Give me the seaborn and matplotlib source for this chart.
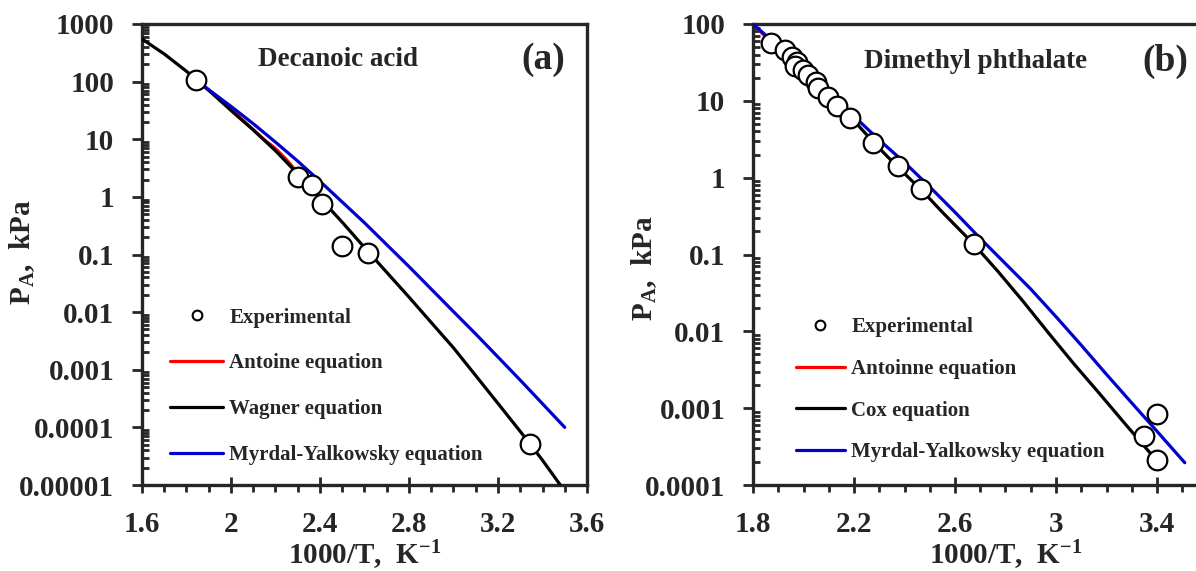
import numpy as np
import pandas as pd
import matplotlib
matplotlib.use('Agg')
import matplotlib.pyplot as plt
import matplotlib.ticker as ticker
from matplotlib.lines import Line2D
import seaborn as sns

# (a) Decanoic acid
dec_exp_x = [1.843, 2.30, 2.364, 2.407, 2.50, 2.616, 3.344]
dec_exp_p = [107, 2.2, 1.6, 0.75, 0.14, 0.106, 0.000051]

dec_wag_x = [1.60, 1.70, 1.80, 1.85, 1.90, 2.00, 2.10, 2.20, 2.30, 2.40, 2.50,
             2.60, 2.70, 2.80, 2.90, 3.00, 3.10, 3.20, 3.30, 3.40, 3.48]
dec_wag_p = [550, 302, 151, 105, 70.8, 31.6, 14.5, 6.31, 2.51, 0.955, 0.363,
             0.132, 0.049, 0.0182, 0.0066, 0.0024, 0.00079, 0.00026, 0.000085,
             0.0000269, 0.00001]

dec_ant_x = [1.84, 1.95, 2.05, 2.15, 2.20, 2.25, 2.30]
dec_ant_p = [108, 50, 22, 9.8, 6.9, 4.4, 2.6]

dec_my_x = [1.85, 1.90, 2.00, 2.10, 2.20, 2.30, 2.40, 2.50, 2.60, 2.70, 2.80,
            2.90, 3.00, 3.10, 3.20, 3.30, 3.40, 3.50]
dec_my_p = [100, 72.4, 37.2, 18.6, 8.91, 4.17, 1.86, 0.813, 0.355, 0.148, 0.0617,
            0.0251, 0.0102, 0.00417, 0.00166, 0.00066, 0.000257, 0.0001]

# (b) Dimethyl phthalate
dmp_exp_x = [1.871, 1.927, 1.953, 1.973, 1.966, 1.999, 2.019, 2.05, 2.059, 2.099,
             2.131, 2.184, 2.277, 2.373, 2.466, 2.674, 3.40, 3.35, 3.40]
dmp_exp_p = [56, 46, 37.5, 32, 28, 25, 21.7, 17.8, 14.5, 11.3,
             8.5, 5.9, 2.85, 1.43, 0.71, 0.139, 0.00083, 0.00043, 0.000214]

dmp_cox_x = [1.87, 1.95, 2.00, 2.05, 2.10, 2.20, 2.28, 2.37, 2.47, 2.55, 2.67,
             2.77, 2.87, 2.97, 3.07, 3.17, 3.27, 3.38]
dmp_cox_p = [56.2, 33.1, 24.0, 17.4, 12.0, 5.50, 2.82, 1.41, 0.676, 0.355, 0.141,
             0.0603, 0.0245, 0.00955, 0.0038, 0.00158, 0.000646, 0.000245]

dmp_ant_x = [1.80, 1.85, 1.90, 2.00, 2.10]
dmp_ant_p = [100, 68, 48, 24.5, 12.2]

dmp_my_x = [1.80, 1.90, 2.00, 2.10, 2.20, 2.30, 2.40, 2.50, 2.60, 2.70, 2.80,
            2.90, 3.00, 3.10, 3.20, 3.30, 3.40, 3.51]
dmp_my_p = [100, 51.3, 25.7, 12.9, 6.31, 3.09, 1.58, 0.759, 0.355, 0.162, 0.0759,
            0.0355, 0.0155, 0.0066, 0.00275, 0.00117, 0.0005, 0.000195]

sns.set_style("ticks")
plt.rcParams['font.family'] = ['Liberation Serif', 'DejaVu Serif']
plt.rcParams['font.weight'] = 'bold'
plt.rcParams['axes.labelweight'] = 'bold'
plt.rcParams['mathtext.fontset'] = 'custom'
plt.rcParams['mathtext.rm'] = 'Liberation Serif:bold'
plt.rcParams['mathtext.it'] = 'Liberation Serif:bold'
plt.rcParams['mathtext.bf'] = 'Liberation Serif:bold'

RED = '#ff0000'
BLUE = '#0000cc'
LW = 2.3

fig = plt.figure(figsize=(11.96, 5.71), dpi=100)
W, H = 1196, 571
ax1 = fig.add_axes([142 / W, 1 - 485 / H, (587 - 142) / W, (485 - 24) / H])
ax2 = fig.add_axes([753 / W, 1 - 485 / H, (1258 - 753) / W, (485 - 24) / H])


def draw(ax, ant, mid, my, exp):
    sns.lineplot(x=ant[0], y=ant[1], sort=False, color=RED, lw=LW, ax=ax, zorder=2)
    sns.lineplot(x=mid[0], y=mid[1], sort=False, color='black', lw=LW, ax=ax, zorder=3)
    sns.lineplot(x=my[0], y=my[1], sort=False, color=BLUE, lw=LW, ax=ax, zorder=4)
    sns.scatterplot(x=exp[0], y=exp[1], marker='o', s=200, facecolor='white',
                    edgecolor='black', linewidth=1.6, ax=ax, zorder=5)


draw(ax1, (dec_ant_x, dec_ant_p), (dec_wag_x, dec_wag_p),
     (dec_my_x, dec_my_p), (dec_exp_x, dec_exp_p))
draw(ax2, (dmp_ant_x, dmp_ant_p), (dmp_cox_x, dmp_cox_p),
     (dmp_my_x, dmp_my_p), (dmp_exp_x, dmp_exp_p))


def ylab(v, p):
    dec = max(0, int(-np.floor(np.log10(v) + 1e-9)))
    return f"{v:.{dec}f}"


fmt = ticker.FuncFormatter(ylab)

for ax, xlim, ylim, xmaj in [(ax1, (1.6, 3.6), (1e-5, 1000), np.arange(1.6, 3.61, 0.4)),
                             (ax2, (1.8, 3.8), (1e-4, 100), np.arange(1.8, 3.41, 0.4))]:
    ax.set_yscale('log')
    ax.set_xlim(*xlim)
    ax.set_ylim(*ylim)
    ax.set_xticks(xmaj)
    ax.xaxis.set_major_formatter(ticker.FuncFormatter(lambda v, p: f"{v:.1f}".rstrip('0').rstrip('.')))
    ax.xaxis.set_minor_locator(ticker.MultipleLocator(0.1))
    ax.yaxis.set_major_locator(ticker.LogLocator(base=10, numticks=20))
    ax.yaxis.set_minor_locator(ticker.LogLocator(base=10, subs=np.arange(2, 10), numticks=20))
    ax.yaxis.set_major_formatter(fmt)
    ax.yaxis.set_minor_formatter(ticker.NullFormatter())
    ax.tick_params(axis='x', which='major', direction='inout', length=11, width=2,
                   labelsize=21, pad=13)
    ax.tick_params(axis='x', which='minor', direction='out', length=5, width=2)
    ax.tick_params(axis='y', which='major', direction='out', length=7, width=2,
                   labelsize=21, pad=13)
    ax.tick_params(axis='y', which='minor', direction='in', length=5, width=2)
    for lab in ax.get_xticklabels() + ax.get_yticklabels():
        lab.set_fontweight('bold')
    for sp in ax.spines.values():
        sp.set_linewidth(2.4)
    ax.set_xlabel("1000/T,  K$^{-1}$", fontsize=21, labelpad=0.5)
    ax.set_ylabel("P$_\\mathrm{A}$,  kPa", fontsize=21)

ax1.yaxis.set_label_coords(-0.236, 0.505)
ax2.yaxis.set_label_coords(-0.186, 0.47)

ax1.text(0.44, 0.922, "Decanoic acid", transform=ax1.transAxes, ha='center',
         va='center', fontsize=19.5, fontweight='bold')
ax1.text(0.901, 0.922, "(a)", transform=ax1.transAxes, ha='center',
         va='center', fontsize=27, fontweight='bold')
ax2.text(0.44, 0.918, "Dimethyl phthalate", transform=ax2.transAxes, ha='center',
         va='center', fontsize=19.5, fontweight='bold')
ax2.text(0.816, 0.918, "(b)", transform=ax2.transAxes, ha='center',
         va='center', fontsize=27, fontweight='bold')


def legend(ax, names, anchor, spacing, hlen):
    handles = [Line2D([], [], ls='none', marker='o', ms=7, mfc='white', mec='black', mew=1.5),
               Line2D([], [], color=RED, lw=LW),
               Line2D([], [], color='black', lw=LW),
               Line2D([], [], color=BLUE, lw=LW)]
    leg = ax.legend(handles, names, loc='upper left', bbox_to_anchor=anchor,
                    frameon=False, borderpad=0, borderaxespad=0,
                    labelspacing=spacing, handlelength=hlen, handletextpad=0.3,
                    prop={'family': 'Liberation Serif', 'weight': 'bold', 'size': 15})
    return leg


legend(ax1, ["Experimental", "Antoine equation", "Wagner equation",
             "Myrdal-Yalkowsky equation"], (0.063, 0.385), 1.24, 2.55)
legend(ax2, ["Experimental", "Antoinne equation", "Cox equation",
             "Myrdal-Yalkowsky equation"], (0.085, 0.364), 1.04, 2.35)

plt.savefig('out.png', dpi=100)
